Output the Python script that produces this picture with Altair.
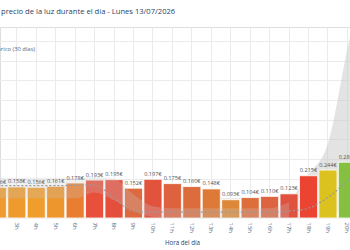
import altair as alt
import pandas as pd

# Hourly electricity price for the day (€/kWh)
horas = ["2h", "3h", "4h", "5h", "6h", "7h", "8h", "9h", "10h", "11h",
         "12h", "13h", "14h", "15h", "16h", "17h", "18h", "19h", "20h"]
precio = [0.156, 0.158, 0.156, 0.161, 0.178, 0.193, 0.195, 0.152, 0.197, 0.175,
          0.160, 0.148, 0.093, 0.104, 0.110, 0.123, 0.215, 0.244, 0.284]

# 30-day history: range (min / max) and average per hour
horas_hist = horas + ["21h"]
hist_min = [0.100, 0.100, 0.100, 0.100, 0.100, 0.130, 0.090, 0.035, 0.005, 0.000,
            0.000, 0.000, 0.000, 0.000, 0.000, 0.000, 0.005, 0.020, 0.050, 0.100]
hist_max = [0.205, 0.205, 0.205, 0.205, 0.205, 0.210, 0.200, 0.120, 0.060, 0.050,
            0.050, 0.050, 0.050, 0.050, 0.050, 0.080, 0.220, 0.380, 0.860, 1.300]
hist_media = [0.165, 0.165, 0.165, 0.165, 0.166, 0.168, 0.100, 0.035, 0.030, 0.030,
              0.030, 0.030, 0.030, 0.030, 0.030, 0.035, 0.050, 0.105, 0.190, 0.300]

titulo = "precio de la luz durante el día - Lunes 13/07/2026"
leyenda = "Histórico (30 días)"

# Bar colours, one per hour
colores = ["#ee9a2e", "#ee9a2e", "#ef9d2c", "#ee962e", "#ea7e30", "#e8503c", "#e64e3c",
           "#dd6a3e", "#e2533d", "#de623e", "#dd6c3c", "#de7a38", "#dc8838", "#dd6e3c",
           "#dc6440", "#e0513e", "#eb4432", "#dcc21e", "#86c040"]

df = pd.DataFrame({"hora": horas, "precio": precio})
df["etiqueta"] = [f"{v:.3f}€" for v in precio]
hist = pd.DataFrame({"hora": horas_hist, "min": hist_min, "max": hist_max, "media": hist_media})
hist["idx"] = range(len(hist))
split = horas_hist.index("17h")

FONT = "Open Sans"
step = 19.38
x0 = -2 - step / 2
x_scale = alt.Scale(domain=horas_hist, range=[x0, x0 + step * len(horas_hist)],
                    paddingInner=0.07, paddingOuter=0)
y_scale = alt.Scale(domain=[0, 0.972], nice=False, zero=True)

x_axis = alt.Axis(title="Hora del día", labelAngle=90, labelFontSize=6, labelColor="#506784",
                  labelFont=FONT, labelPadding=4, ticks=False, domain=False, grid=True,
                  gridColor="#ebebeb", bandPosition=0.5, titleFont=FONT, titleFontSize=6.2,
                  titleFontWeight="normal", titleColor="#2a3f5f", titleX=182, titleY=21,
                  labelOverlap=False)
y_axis = alt.Axis(title=None, labels=False, ticks=False, domain=False, grid=True,
                  gridColor="#ebebeb", values=[0.1 * i for i in range(0, 10)])

X = alt.X("hora:N", scale=x_scale, axis=x_axis, sort=horas_hist)


def Y(field):
    return alt.Y(field, type="quantitative", scale=y_scale, axis=y_axis)


bars = alt.Chart(df).mark_bar(stroke="white", strokeWidth=0.8).encode(
    x=X,
    y=Y("precio"),
    color=alt.Color("hora:N", scale=alt.Scale(domain=horas, range=colores), legend=None),
)


def banda(data, opacity):
    return alt.Chart(data).mark_area(color="#c8c8c8", opacity=opacity,
                                     interpolate="monotone", clip=True).encode(
        x=X, y=Y("max"), y2="min:Q",
    )


# evening part of the historic range sits behind the bars, the rest is washed over them
band_back = banda(hist[hist["idx"] >= split], 0.5)
band_front = banda(hist[hist["idx"] <= split], 0.27)

media = alt.Chart(hist).mark_line(color="#9a9a9a", strokeWidth=1.2, strokeDash=[2, 2],
                                  interpolate="monotone", clip=True).encode(
    x=X, y=Y("media"),
)

labels = alt.Chart(df).mark_text(font=FONT, fontSize=5.6, color="#555555", baseline="bottom",
                                 dy=-2.5).encode(
    x=X, y=Y("precio"), text="etiqueta:N",
)

title = alt.Chart(pd.DataFrame({"t": [titulo]})).mark_text(
    font=FONT, fontSize=7.6, color="#2a3f5f", align="left", baseline="middle"
).encode(x=alt.value(1), y=alt.value(-15), text="t:N")

legend = alt.Chart(pd.DataFrame({"t": [leyenda]})).mark_text(
    font=FONT, fontSize=5.8, color="#506784", align="right", baseline="middle"
).encode(x=alt.value(35), y=alt.value(22), text="t:N")

chart = alt.layer(band_back, bars, band_front, media, labels, title, legend).properties(
    width=350, height=191,
    autosize=alt.AutoSizeParams(type="none"),
    padding={"left": 0, "top": 27, "right": 0, "bottom": 32},
).configure_view(stroke=None).configure(background="white")

chart.save("out.html", embed_options={"renderer": "svg", "actions": False})
